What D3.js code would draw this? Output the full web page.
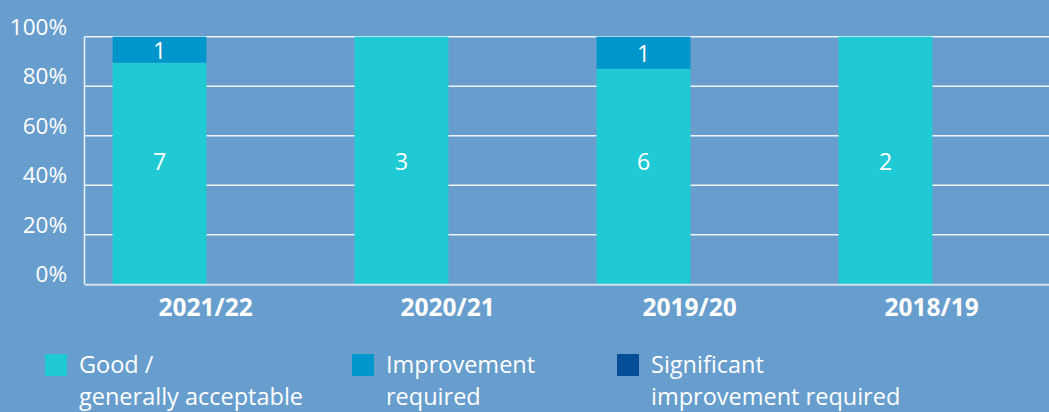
<!DOCTYPE html>
<html><head><meta charset="utf-8">
<script src="https://cdn.jsdelivr.net/npm/d3@7"></script>
<style>
html,body{margin:0;padding:0;background:#689ecd;}
svg{display:block;font-family:"Open Sans","Noto Sans",sans-serif;}
</style></head>
<body>
<svg id="c" width="1049" height="412"></svg>
<script>
// Data
const years = ["2021/22","2020/21","2019/20","2018/19"];
const goodShare = [89.5, 100, 87, 100];          // % of bar
const improvementShare = [10.5, 0, 13, 0];
const significantShare = [0, 0, 0, 0];
const goodCount = [7, 3, 6, 2];
const improvementCount = [1, 0, 1, 0];
const significantCount = [0, 0, 0, 0];
const yTicks = [0, 20, 40, 60, 80, 100];
const seriesNames = ["Good / generally acceptable", "Improvement required", "Significant improvement required"];
const legendLines = [["Good /","generally acceptable"],["Improvement","required"],["Significant","improvement required"]];
const colors = ["#1fcad5", "#0096cc", "#044d98"];

const svg = d3.select("#c");
const plotLeft = 84.5, plotRight = 1049, plotTop = 36.7, plotBottom = 284.3;

const x = d3.scaleBand().domain(years).range([38.5, 1006.5]).paddingInner(0.612).paddingOuter(0.306);
const y = d3.scaleLinear().domain([0, 100]).range([plotBottom, plotTop]);

// gridlines
svg.append("g").selectAll("line").data(yTicks.filter(t => t > 0)).join("line")
  .attr("x1", plotLeft).attr("x2", plotRight)
  .attr("y1", d => y(d)).attr("y2", d => y(d))
  .attr("stroke", "#eef3f9").attr("stroke-width", 1.5);

// y axis labels
svg.append("g").selectAll("text").data(yTicks).join("text")
  .attr("x", 67).attr("y", d => y(d) - 8)
  .attr("text-anchor", "end").attr("dominant-baseline", "middle")
  .attr("fill", "#ffffff").attr("font-size", 22.5).attr("font-weight", 400)
  .text(d => d + "%");

// stacked data
const rows = years.map((yr, i) => ({year: yr, good: goodShare[i], imp: improvementShare[i], sig: significantShare[i]}));
const stack = d3.stack().keys(["good","imp","sig"]);
const stacked = stack(rows);
const counts = [goodCount, improvementCount, significantCount];

stacked.forEach((s, si) => {
  const g = svg.append("g");
  g.selectAll("rect").data(s).join("rect")
    .attr("x", d => x(d.data.year))
    .attr("width", x.bandwidth())
    .attr("y", d => y(d[1]))
    .attr("height", d => y(d[0]) - y(d[1]))
    .attr("fill", colors[si]);
});

// value labels
stacked.forEach((s, si) => {
  svg.append("g").selectAll("text").data(s.map((d, i) => ({d, i})).filter(o => counts[si][o.i] > 0)).join("text")
    .attr("x", o => x(o.d.data.year) + x.bandwidth() / 2)
    .attr("y", o => si === 0 ? y(50) : (y(o.d[0]) + y(o.d[1])) / 2)
    .attr("text-anchor", "middle").attr("dominant-baseline", "central")
    .attr("fill", "#ffffff").attr("font-size", 23).attr("font-weight", 500)
    .text(o => counts[si][o.i]);
});

// axes lines
svg.append("line").attr("x1", plotLeft).attr("x2", plotLeft).attr("y1", plotTop).attr("y2", plotBottom)
  .attr("stroke", "#eef3f9").attr("stroke-width", 1.5);
svg.append("line").attr("x1", plotLeft).attr("x2", plotRight).attr("y1", plotBottom + 0.5).attr("y2", plotBottom + 0.5)
  .attr("stroke", "#d2e0ee").attr("stroke-width", 2);

// x labels (start at bar centre)
svg.append("g").selectAll("text").data(years).join("text")
  .attr("x", d => x(d) + x.bandwidth() / 2 - 1)
  .attr("y", 316)
  .attr("fill", "#ffffff").attr("font-size", 24.5).attr("font-weight", 700)
  .text(d => d);

// legend
const legX = [45, 352, 617];
const lg = svg.append("g").selectAll("g").data(seriesNames).join("g")
  .attr("transform", (d, i) => `translate(${legX[i]},0)`);
lg.append("rect").attr("x", 0).attr("y", 354).attr("width", 22).attr("height", 22)
  .attr("fill", (d, i) => colors[i]);
lg.each(function(d, i) {
  const t = d3.select(this).append("text").attr("fill", "#ffffff").attr("font-size", 23.5).attr("font-weight", 400);
  legendLines[i].forEach((ln, j) => {
    t.append("tspan").attr("x", 34).attr("y", 373 + j * 32).text(ln);
  });
});
</script>
</body></html>
